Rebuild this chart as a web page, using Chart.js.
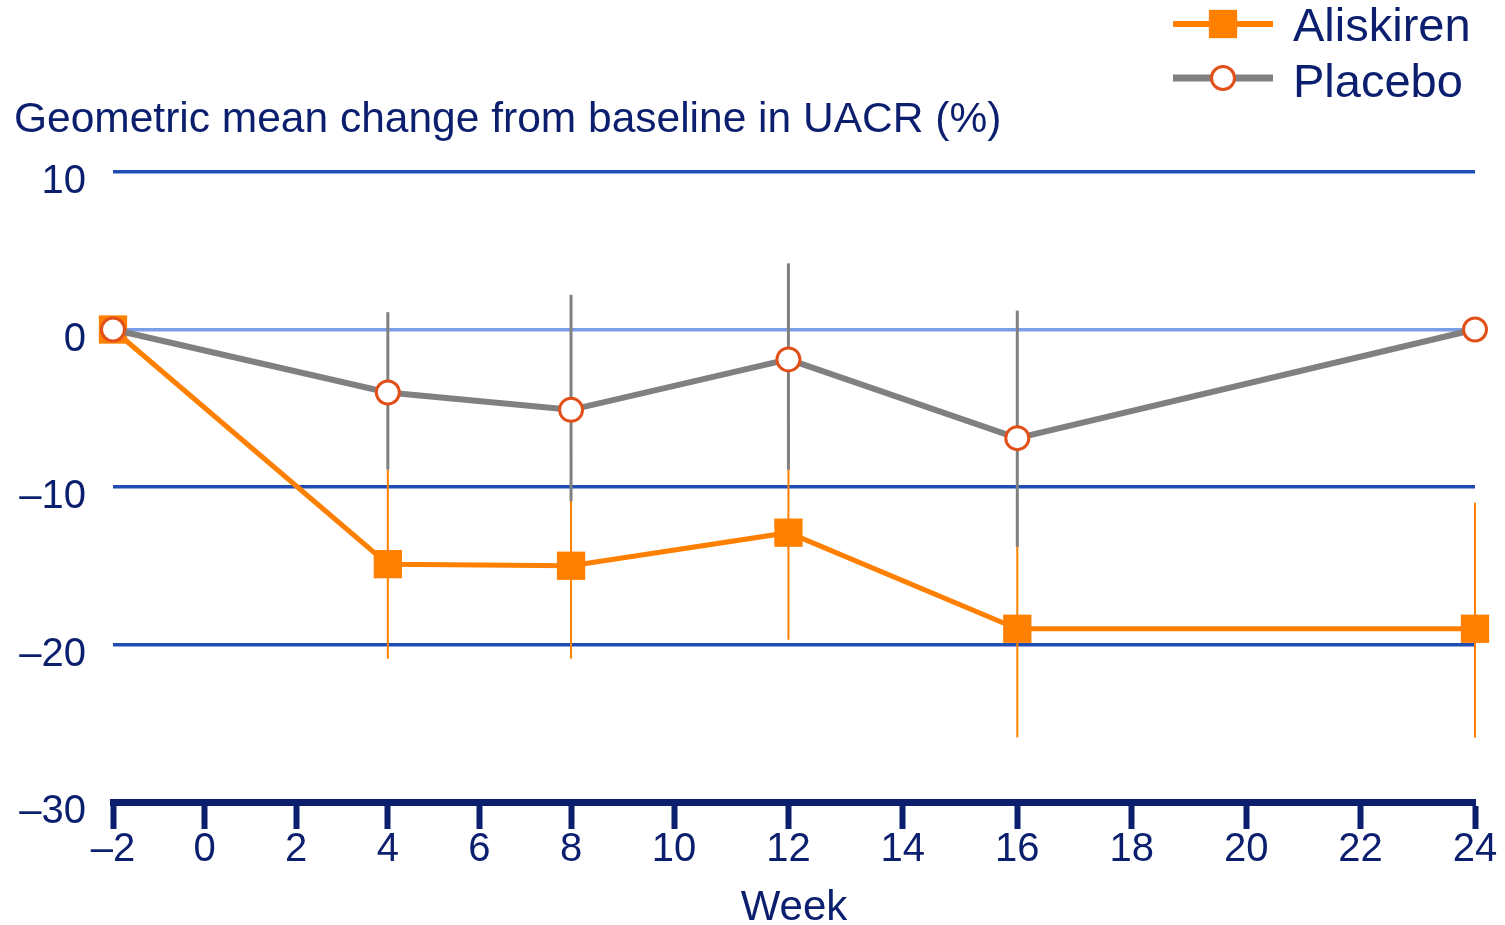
<!DOCTYPE html>
<html>
<head>
<meta charset="utf-8">
<title>UACR change from baseline</title>
<script src="https://cdn.jsdelivr.net/npm/chart.js@4.4.1/dist/chart.umd.min.js"></script>
<style>
  html, body { margin: 0; padding: 0; background: #fff; }
  canvas { display: block; }
</style>
</head>
<body>
<canvas id="uacr-chart" width="1505" height="925"></canvas>
<script>
// --- data ---
const weeks = [-2, 4, 8, 12, 16, 24];
const aliskiren = [0, -14.9, -15.0, -12.9, -19.0, -19.0];
const aliskirenLow = [null, -20.9, -20.9, -19.7, -25.9, -25.9];
const aliskirenHigh = [null, -8.9, -7.9, -5.8, -11.0, -11.0];
const placebo = [0, -4.0, -5.1, -1.9, -6.9, 0];
const placeboLow = [null, -8.9, -10.9, -8.9, -13.8, null];
const placeboHigh = [null, 1.1, 2.2, 4.2, 1.2, null];
const weekTicks = [-2, 0, 2, 4, 6, 8, 10, 12, 14, 16, 18, 20, 22, 24];
const pctTicks = [10, 0, -10, -20, -30];

const NAVY = '#0b1f6e';
const GRID_BLUE = '#1f4db3';
const ZERO_BLUE = '#7a9fe6';
const ORANGE = '#ff8000';
const GREY = '#808080';
const RED_RING = '#e2501a';
const FONT = "'Liberation Sans', Arial, Helvetica, sans-serif";

// the printed week axis is not evenly spaced: it is squeezed before week 8
const AXIS_WEEKS = [-2, 8, 10, 24];
const AXIS_FRACS = [0, 0.3363, 0.4119, 1];

function lerp(v, from, to) {
  for (let i = 0; i < from.length - 1; i++) {
    if (v <= from[i + 1] || i === from.length - 2) {
      const t = (v - from[i]) / (from[i + 1] - from[i]);
      return to[i] + t * (to[i + 1] - to[i]);
    }
  }
  return to[0];
}

class WeekScale extends Chart.LinearScale {
  getPixelForValue(value) {
    if (value === null || value === undefined) return NaN;
    return this.getPixelForDecimal(lerp(value, AXIS_WEEKS, AXIS_FRACS));
  }
  getValueForPixel(pixel) {
    return lerp(this.getDecimalForPixel(pixel), AXIS_FRACS, AXIS_WEEKS);
  }
}
WeekScale.id = 'week';
WeekScale.defaults = Chart.LinearScale.defaults;
Chart.register(WeekScale);

const minus = (v) => (v < 0 ? '\u2013' + Math.abs(v) : String(v));

const points = (ys) => weeks.map((w, i) => ({ x: w, y: ys[i] }));

// vertical error bars, drawn under the lines and markers
const errorBars = {
  id: 'errorBars',
  beforeDatasetsDraw(chart) {
    const { ctx, scales: { x, y } } = chart;
    ctx.save();
    chart.data.datasets.forEach((ds) => {
      ctx.strokeStyle = ds.errColor;
      ctx.lineWidth = ds.errWidth;
      weeks.forEach((w, i) => {
        if (ds.errLow[i] === null) return;
        const px = x.getPixelForValue(w);
        ctx.beginPath();
        ctx.moveTo(px, y.getPixelForValue(ds.errHigh[i]));
        ctx.lineTo(px, y.getPixelForValue(ds.errLow[i]));
        ctx.stroke();
      });
    });
    ctx.restore();
  },
};

// legend with a line through the marker, top right
const lineLegend = {
  id: 'lineLegend',
  afterDraw(chart, args, opts) {
    const ctx = chart.ctx;
    chart.data.datasets.forEach((ds, i) => {
      const cy = opts.top + i * opts.rowGap;
      ctx.save();
      ctx.strokeStyle = ds.borderColor;
      ctx.lineWidth = ds.borderWidth + 1;
      ctx.beginPath();
      ctx.moveTo(opts.x, cy);
      ctx.lineTo(opts.x + opts.lineLen, cy);
      ctx.stroke();
      ctx.fillStyle = ds.pointBackgroundColor;
      ctx.strokeStyle = ds.pointBorderColor;
      ctx.lineWidth = ds.pointBorderWidth;
      Chart.helpers.drawPoint(ctx, {
        pointStyle: ds.pointStyle,
        radius: ds.pointRadius,
        borderWidth: ds.pointBorderWidth,
        rotation: 0,
      }, opts.x + opts.lineLen / 2, cy);
      ctx.fillStyle = NAVY;
      ctx.font = `${opts.fontSize}px ${FONT}`;
      ctx.textAlign = 'left';
      ctx.textBaseline = 'middle';
      ctx.fillText(ds.label, opts.textX, cy + 4 + i * 2);
      ctx.restore();
    });
  },
};

new Chart(document.getElementById('uacr-chart'), {
  type: 'line',
  data: {
    datasets: [
      {
        label: 'Aliskiren',
        data: points(aliskiren),
        errLow: aliskirenLow,
        errHigh: aliskirenHigh,
        errColor: ORANGE,
        errWidth: 2,
        borderColor: ORANGE,
        borderWidth: 5,
        pointStyle: 'rect',
        pointRadius: 20,
        pointBackgroundColor: ORANGE,
        pointBorderColor: ORANGE,
        pointBorderWidth: 0,
        tension: 0,
        clip: false,
        order: 2,
      },
      {
        label: 'Placebo',
        data: points(placebo),
        errLow: placeboLow,
        errHigh: placeboHigh,
        errColor: GREY,
        errWidth: 3,
        borderColor: GREY,
        borderWidth: 6,
        pointStyle: 'circle',
        pointRadius: 11.5,
        pointBackgroundColor: '#ffffff',
        pointBorderColor: RED_RING,
        pointBorderWidth: 3,
        tension: 0,
        clip: false,
        order: 1,
      },
    ],
  },
  options: {
    responsive: false,
    animation: false,
    devicePixelRatio: 1,
    layout: { padding: { left: 14, right: 30, top: 0, bottom: 0 } },
    plugins: {
      legend: { display: false },
      tooltip: { enabled: false },
      title: {
        display: true,
        text: 'Geometric mean change from baseline in UACR (%)',
        align: 'start',
        color: NAVY,
        font: { family: FONT, size: 42.5, weight: 'normal', lineHeight: 1.2 },
        padding: { top: 95, bottom: 26 },
      },
      lineLegend: { x: 1173, lineLen: 100, textX: 1293, top: 24, rowGap: 54, fontSize: 47 },
    },
    scales: {
      x: {
        type: 'week',
        min: -2,
        max: 24,
        afterBuildTicks: (s) => { s.ticks = weekTicks.map((v) => ({ value: v })); },
        afterFit: (s) => { s.height = 123; },
        grid: {
          drawOnChartArea: false,
          drawTicks: true,
          tickLength: 27,
          tickWidth: 6,
          tickColor: NAVY,
        },
        border: { display: true, color: NAVY, width: 7 },
        ticks: {
          color: NAVY,
          padding: -3,
          maxRotation: 0,
          autoSkip: false,
          font: { family: FONT, size: 40 },
          callback: (v) => minus(v),
        },
        title: {
          display: true,
          text: 'Week',
          color: NAVY,
          font: { family: FONT, size: 42, lineHeight: 0.8 },
          padding: { top: 0, bottom: 0 },
        },
      },
      y: {
        min: -30,
        max: 10,
        afterBuildTicks: (s) => { s.ticks = pctTicks.map((v) => ({ value: v })); },
        afterFit: (s) => { s.width = 99; },
        grid: {
          drawTicks: false,
          lineWidth: 3.5,
          color: (c) => {
            const v = c.tick && c.tick.value;
            if (v === 0) return ZERO_BLUE;
            if (v === -30) return 'rgba(0,0,0,0)';
            return GRID_BLUE;
          },
        },
        border: { display: false },
        ticks: {
          color: NAVY,
          padding: 27,
          labelOffset: 10,
          font: { family: FONT, size: 40 },
          callback: (v) => minus(v),
        },
      },
    },
  },
  plugins: [errorBars, lineLegend],
});
</script>
</body>
</html>
